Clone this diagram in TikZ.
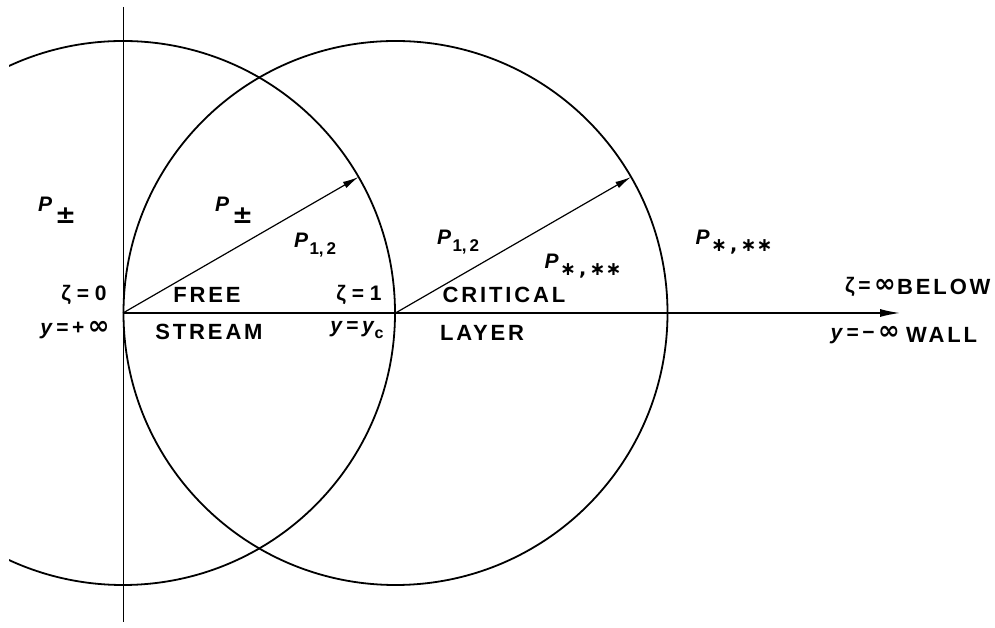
\documentclass[tikz,border=0pt]{standalone}
\usepackage{fontspec}
\setmainfont{Liberation Sans}
\newfontfamily\capsfont[LetterSpace=13]{Liberation Sans}
\newfontfamily\symfont{DejaVu Sans}
\usetikzlibrary{arrows.meta,calc}

% P with a lowered subscript
\newcommand\Plab[1]{\textit{P}\hspace{1.5pt}\raisebox{-0.35em}{\fontsize{17}{17}\selectfont #1}}
% P with a deeply lowered plus-minus
\newcommand\Ppm{\textit{P}\hspace{3pt}\raisebox{-12pt}{\symfont\fontsize{25}{25}\selectfont ±}}
\newcommand\stars{{\symfont\fontsize{19}{19}\selectfont ∗\,,\,∗∗}}
\newcommand\infin{{\symfont\fontsize{26}{26}\selectfont ∞}}

\tikzset{
  ring/.style={line width=1.8pt},
  radius arrow/.style={line width=1.2pt,-{Latex[length=16pt,width=7pt]}},
  axis line/.style={line width=1.4pt},
  lab/.style={font=\fontsize{21}{22}\selectfont\bfseries, inner sep=0pt},
  word/.style={font=\fontsize{22}{23}\selectfont\capsfont\bfseries, inner sep=0pt},
}

\begin{document}
\begin{tikzpicture}[x=1pt,y=1pt]
  \useasboundingbox (0,0) rectangle (995,628);

  % centres of the two circles on the axis
  \coordinate (O) at (123,315);
  \coordinate (C) at (395.5,315);
  \coordinate (Top) at (123,621);
  \coordinate (Bot) at (123,6);
  \coordinate (End) at (900,315);
  \coordinate (T1) at ($(O)+(30:272)$);
  \coordinate (T2) at ($(C)+(30:272)$);

  % vertical reference line
  \draw[line width=1pt] (Top) -- (Bot);

  % left circle (cut by the page edge) and right circle
  \begin{scope}
    \clip (9,0) rectangle (995,628);
    \draw[ring] (O) circle (272);
  \end{scope}
  \draw[ring] (C) circle (272);

  % axis with arrow
  \draw[axis line,-{Latex[length=20pt,width=8pt]}] (O) -- (End);

  % radius arrows
  \draw[radius arrow] (O) -- (T1);
  \draw[radius arrow] (C) -- (T2);

  % labels
  \node[lab, anchor=base west] (pa) at (38,416) {\Ppm};
  \node[lab, anchor=base west] (pb) at (215,416) {\Ppm};
  \node[lab] (pc) at (315,383) {\Plab{1,\,2}};
  \node[lab] (pd) at (458,386) {\Plab{1,\,2}};
  \node[lab] (pe) at (583,362) {\Plab{\stars}};
  \node[lab] (pf) at (734,386) {\Plab{\stars}};

  \node[lab] (z0) at (84,333) {ζ\;=\;0};
  \node[lab] (y0) at (75,298) {\textit{y}\,=\,+\,\infin};
  \node[lab] (z1) at (359,333) {ζ\;=\;1};
  \node[lab] (y1) at (357,298) {\textit{y}\,=\,\textit{y}\raisebox{-0.3em}{\fontsize{16}{16}\selectfont c}};

  \node[word] (free) at (207,333) {FREE};
  \node[word] (stream) at (209,296) {STREAM};
  \node[word] (crit) at (504,333) {CRITICAL};
  \node[word] (layer) at (482,295) {LAYER};

  \node[lab, anchor=east] (zi) at (896,341) {ζ\,=\,\infin};
  \node[word, anchor=west] (below) at (897,341) {BELOW};
  \node[lab, anchor=east] (yi) at (900,293) {\textit{y}\,=\,−\,\infin};
  \node[word, anchor=west] (wall) at (906,293) {WALL};
\end{tikzpicture}
\end{document}
